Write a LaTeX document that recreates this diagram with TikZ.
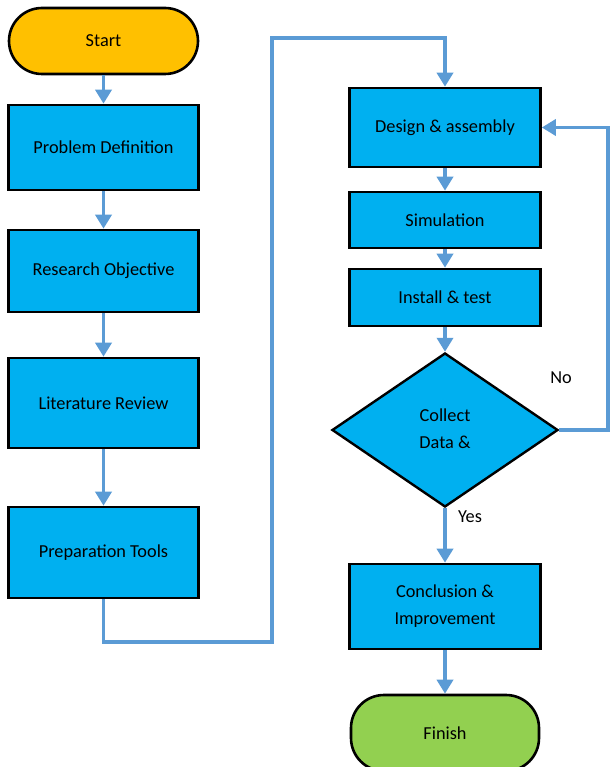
\documentclass[tikz,border=0pt]{standalone}
\usepackage{fontspec}
\setmainfont{Carlito}
\usetikzlibrary{arrows.meta,shapes.geometric}
\definecolor{boxblue}{HTML}{00B0F0}
\definecolor{startgold}{HTML}{FFC000}
\definecolor{finishgreen}{HTML}{92D050}
\definecolor{linkblue}{HTML}{5B9BD5}
\begin{document}
\begin{tikzpicture}[x=1pt,y=-1pt,
  every node/.style={font=\fontsize{18.3}{27}\selectfont, inner sep=0pt, align=center},
  procbox/.style={draw=black, line width=2.6pt, fill=boxblue, rectangle},
  terminal/.style={draw=black, line width=2.6pt, rectangle, rounded corners=33pt},
  decision/.style={draw=black, line width=2.4pt, fill=boxblue, diamond},
  link/.style={draw=linkblue, line width=3.5pt, line join=miter,
    -{Triangle[width=16pt,length=14pt]}},
  tag/.style={font=\fontsize{18.3}{22}\selectfont}]
  \useasboundingbox (0,0) rectangle (610,767);

  % left column
  \node[terminal, fill=startgold, minimum width=189pt, minimum height=66pt] (start) at (103.5,41) {Start};
  \node[procbox, minimum width=190pt, minimum height=85pt] (pd) at (103.5,147.5) {Problem Definition};
  \node[procbox, minimum width=190pt, minimum height=82pt] (ro) at (103.5,271) {Research Objective};
  \node[procbox, minimum width=190pt, minimum height=90pt] (lr) at (103.5,403) {Literature Review};
  \node[procbox, minimum width=190pt, minimum height=91pt] (pt) at (103.5,552.5) {Preparation Tools};

  % right column
  \node[procbox, minimum width=191pt, minimum height=79pt] (da) at (445,127.5) {Design \& assembly};
  \node[procbox, minimum width=191pt, minimum height=56pt] (sim) at (445,220) {Simulation};
  \node[procbox, minimum width=191pt, minimum height=57pt] (it) at (445,297.5) {Install \& test};
  \node[decision, minimum width=226pt, minimum height=154pt] (cd) at (445,430) {};
  \node at (445,428.5) {Collect\\Data \&};
  \node[procbox, minimum width=191pt, minimum height=85pt] (ci) at (445,606.5) {Conclusion \&\\Improvement};
  \node[terminal, fill=finishgreen, minimum width=188pt, minimum height=76pt] (fin) at (445,733) {Finish};

  % turning points of the long connectors
  \coordinate (b1) at (103.5,642);
  \coordinate (b2) at (272,642);
  \coordinate (b3) at (272,38);
  \coordinate (b4) at (445,38);
  \coordinate (n1) at (608,430);
  \coordinate (n2) at (608,127.5);

  % connectors
  \draw[link] (start) -- (pd);
  \draw[link] (pd) -- (ro);
  \draw[link] (ro) -- (lr);
  \draw[link] (lr) -- (pt);
  \draw[link] (pt.south) -- (b1) -- (b2) -- (b3) -- (b4) -- (da.north);
  \draw[link] (da) -- (sim);
  \draw[link] (sim) -- (it);
  \draw[link] (it) -- (cd.north);
  \draw[link] (cd.south) -- (ci);
  \draw[link] (ci) -- (fin);
  \draw[link] (cd.east) -- (n1) -- (n2) -- (da.east);

  % branch labels
  \node[tag] (no) at (561,378) {No};
  \node[tag] (yes) at (470,517) {Yes};
\end{tikzpicture}
\end{document}
